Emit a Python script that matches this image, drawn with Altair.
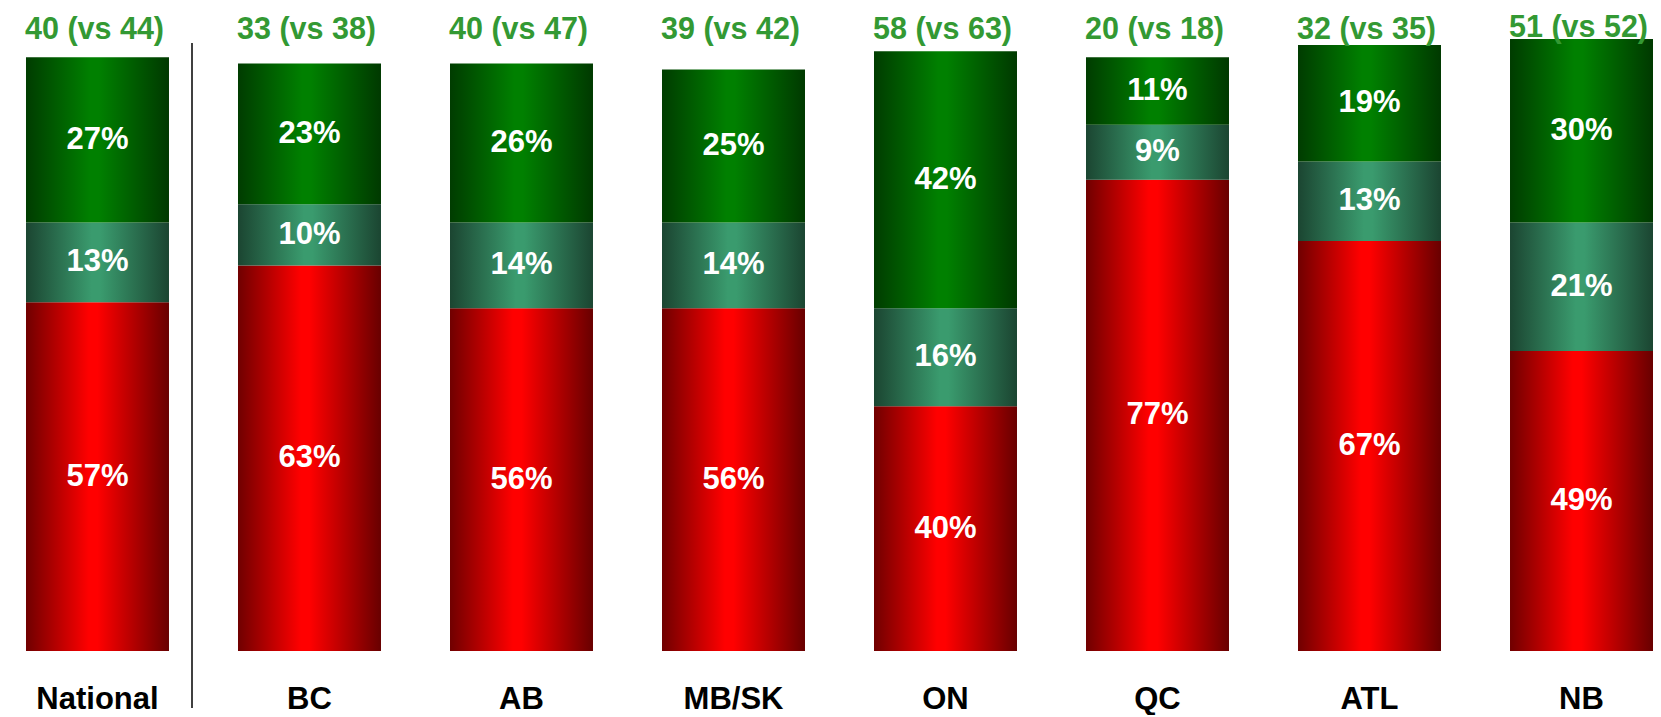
import altair as alt
import pandas as pd

regions = ["National", "BC", "AB", "MB/SK", "ON", "QC", "ATL", "NB"]
red_vals = [57, 63, 56, 56, 40, 77, 67, 49]
teal_vals = [13, 10, 14, 14, 16, 9, 13, 21]
green_vals = [27, 23, 26, 25, 42, 11, 19, 30]
scores = [40, 33, 40, 39, 58, 20, 32, 51]
previous = [44, 38, 47, 42, 63, 18, 35, 52]

rows = []
for i, r in enumerate(regions):
    base = 0
    for seg, v in (("red", red_vals[i]), ("teal", teal_vals[i]), ("green", green_vals[i])):
        rows.append(dict(region=r, seg=seg, value=v, y0=base, y1=base + v,
                         mid=base + v / 2, label=f"{v}%"))
        base += v
seg_df = pd.DataFrame(rows)

totals = [a + b + c for a, b, c in zip(red_vals, teal_vals, green_vals)]
head_df = pd.DataFrame(dict(
    region=regions,
    label=[f"{s} (vs {p})" for s, p in zip(scores, previous)],
    ly=[(t + 1.85) if t >= 100 else 101.5 for t in totals],
))

FONT = "Liberation Sans"

x_enc = alt.X("region:N", sort=regions,
              scale=alt.Scale(paddingInner=0.3255, paddingOuter=0.04245, align=1),
              axis=alt.Axis(title=None, domain=False, ticks=False, labelAngle=0,
                            labelFont=FONT, labelFontSize=31, labelFontWeight="bold",
                            labelColor="#000000", labelPadding=48, labelBaseline="middle"))
y_scale = alt.Scale(domain=[0, 103.43], nice=False, zero=False)


def grad(c_edge_l, c_mid, c_edge_r, mid=0.48):
    return {"gradient": "linear", "x1": 0, "x2": 1, "y1": 0, "y2": 0,
            "stops": [{"offset": 0, "color": c_edge_l},
                      {"offset": mid, "color": c_mid},
                      {"offset": mid + 0.06, "color": c_mid},
                      {"offset": 1, "color": c_edge_r}]}


grads = {
    "red": grad("#700000", "#ff0000", "#680000", 0.44),
    "teal": grad("#1b4531", "#3a9b6e", "#1b4531", 0.46),
    "green": grad("#003c00", "#008000", "#003900", 0.45),
}

layers = []
for seg in ["red", "teal", "green"]:
    layers.append(
        alt.Chart(seg_df).transform_filter(alt.datum.seg == seg)
        .mark_bar(color=grads[seg], stroke=None)
        .encode(x=x_enc,
                y=alt.Y("y0:Q", scale=y_scale, axis=None),
                y2="y1:Q")
    )

pct = alt.Chart(seg_df).mark_text(font=FONT, fontSize=31, fontWeight="bold",
                                  color="white", baseline="middle").encode(
    x=alt.X("region:N", sort=regions), y=alt.Y("mid:Q", scale=y_scale), text="label:N")

heads = alt.Chart(head_df).mark_text(font=FONT, fontSize=30.5, fontWeight="bold",
                                     color="#339933", baseline="middle", dx=-3).encode(
    x=alt.X("region:N", sort=regions), y=alt.Y("ly:Q", scale=y_scale), text="label:N")

sep = alt.Chart(pd.DataFrame({"a": [0]})).mark_rule(color="black", strokeWidth=1.5).encode(
    x=alt.value(184), y=alt.value(25), y2=alt.value(690))

chart = alt.layer(*layers, pct, heads, sep).properties(
    width=1645, height=633,
    padding={"top": 10, "left": 0, "right": 0, "bottom": 64},
    autosize=alt.AutoSizeParams(type="none"),
).configure_view(stroke=None)

chart.save("out.html", embed_options={"renderer": "svg", "actions": False})
